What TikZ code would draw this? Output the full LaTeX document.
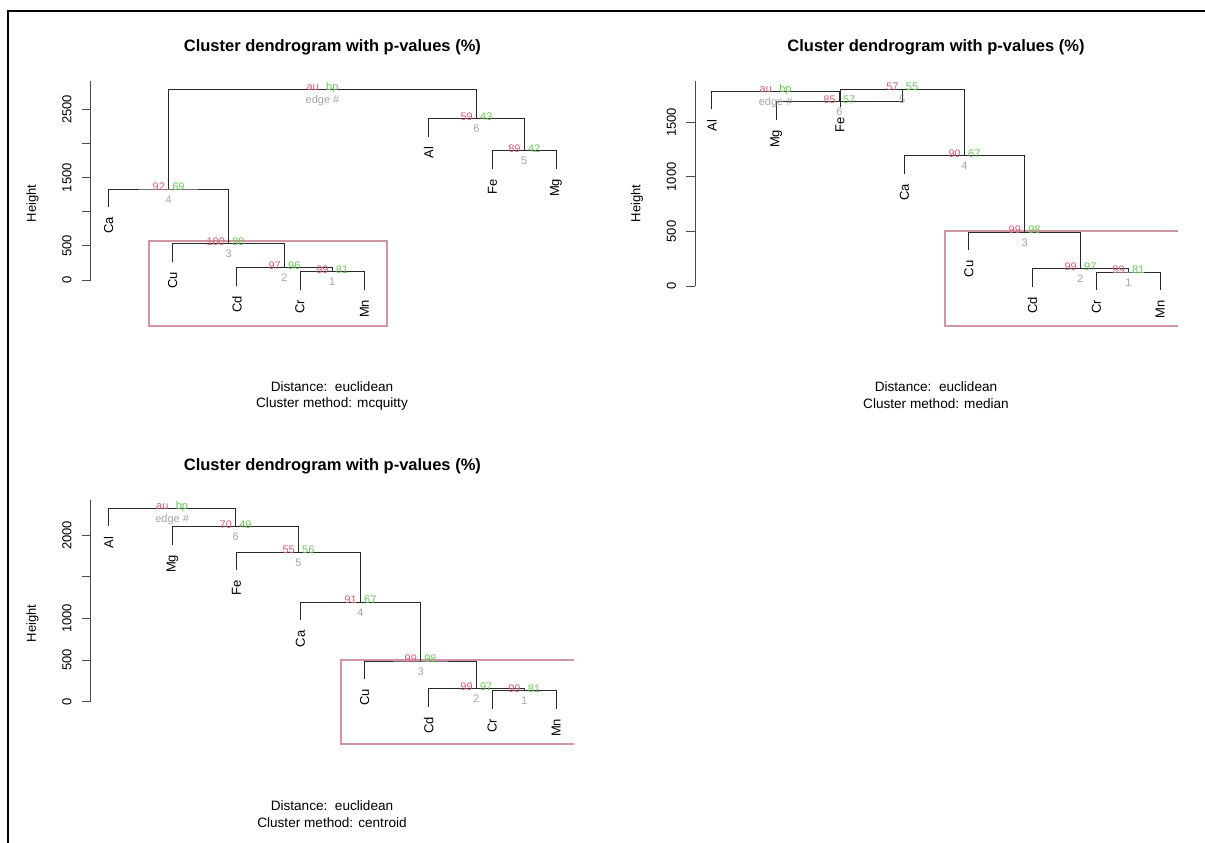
\documentclass[tikz,border=0pt]{standalone}
\usepackage{fontspec}
\setmainfont{Liberation Sans}
\definecolor{aucol}{HTML}{D4607A}
\definecolor{bpcol}{HTML}{6CC85C}
\definecolor{edgecol}{HTML}{A6A6A6}
\definecolor{rectcol}{RGB}{208,150,162}
\definecolor{dendcol}{HTML}{2A2A2A}
\begin{document}
\begin{tikzpicture}[x=1pt,y=-1pt,
 dend/.style={draw=dendcol, line width=0.9pt},
 axisline/.style={draw=black!70, line width=0.9pt},
 leaf/.style={yshift=-10pt, rotate=90, anchor=east, inner sep=0pt, font=\fontsize{13}{15}\selectfont},
 ticklab/.style={rotate=90, anchor=center, inner sep=0pt, font=\fontsize{13}{15}\selectfont},
 ttl/.style={font=\fontsize{16.5}{19}\selectfont\bfseries, inner sep=0pt},
 foot/.style={font=\fontsize{13.6}{16}\selectfont, inner sep=0pt},
 aulab/.style={text=aucol, anchor=base east, inner sep=0pt, xshift=-3.5pt, yshift=-1.5pt, font=\fontsize{11}{13}\selectfont},
 bplab/.style={text=bpcol, anchor=base west, inner sep=0pt, xshift=3.5pt, yshift=-1.5pt, font=\fontsize{11}{13}\selectfont},
 edlab/.style={text=edgecol, anchor=base, inner sep=0pt, yshift=-14pt, font=\fontsize{11}{13}\selectfont},
 pvrect/.style={draw=rectcol, line width=1.1pt}]
\useasboundingbox[fill=white] (0,0) rectangle (1205,843);
% outer frame
\draw[line width=2pt] (7.7,10.3) -- (7.7,843);
\draw[line width=1.1pt] (7,11) -- (1205,11);
\draw[line width=2.2pt] (7,11.3) -- (22,11.3);
\draw[line width=2.2pt] (609,11.3) -- (626,11.3);

% ================= Panel 1: mcquitty =================
\coordinate (aCa) at (108.7,207);
\coordinate (aCu) at (172.6,261.7);
\coordinate (aCd) at (236.9,285.7);
\coordinate (aCr) at (300.0,289.7);
\coordinate (aMn) at (364.3,289.7);
\coordinate (aAl) at (428.6,136.7);
\coordinate (aFe) at (492.5,168.7);
\coordinate (aMg) at (556.1,168.7);
\coordinate (ae1) at (332.2,271.7);
\coordinate (ae2) at (284.5,267.7);
\coordinate (ae3) at (228.6,243.7);
\coordinate (ae4) at (168.6,189);
\coordinate (ae5) at (524.3,150.7);
\coordinate (ae6) at (476.5,118.7);
\coordinate (aroot) at (322.5,89.3);
\draw[pvrect] (149,241) -- (387,241) -- (387,326) -- (149,326) -- cycle;
\draw[dend] (aCr) |- (ae1) -| (aMn);
\draw[dend] (aCd) |- (ae2) -| (ae1);
\draw[dend] (aCu) |- (ae3) -| (ae2);
\draw[dend] (aCa) |- (ae4) -| (ae3);
\draw[dend] (aFe) |- (ae5) -| (aMg);
\draw[dend] (aAl) |- (ae6) -| (ae5);
\draw[dend] (ae4) |- (aroot) -| (ae6);
\draw[axisline] (90.7,81) -- (90.7,280);
\foreach \yy in {280,245.86,211.72,177.58,143.44,109.3} \draw[axisline] (90.7,\yy) -- (81.5,\yy);
\node[ttl] (aT) at (332.4,47.3) {Cluster dendrogram with p-values (\%)};
\node[ticklab] (aY0) at (67,280) {0};
\node[ticklab] (aY1) at (67,245.86) {500};
\node[ticklab] (aY3) at (67,177.58) {1500};
\node[ticklab] (aY5) at (67,109.3) {2500};
\node[ticklab] (aH) at (32.5,203.3) {Height};
\node[leaf] (aCaL) at (aCa) {Ca};
\node[leaf] (aCuL) at (aCu) {Cu};
\node[leaf] (aCdL) at (aCd) {Cd};
\node[leaf] (aCrL) at (aCr) {Cr};
\node[leaf] (aMnL) at (aMn) {Mn};
\node[leaf] (aAlL) at (aAl) {Al};
\node[leaf] (aFeL) at (aFe) {Fe};
\node[leaf] (aMgL) at (aMg) {Mg};
\node[aulab] (ae1a) at (ae1) {99}; \node[bplab] (ae1b) at (ae1) {81}; \node[edlab] (ae1e) at (ae1) {1};
\node[aulab] (ae2a) at (ae2) {97}; \node[bplab] (ae2b) at (ae2) {96}; \node[edlab] (ae2e) at (ae2) {2};
\node[aulab] (ae3a) at (ae3) {100}; \node[bplab] (ae3b) at (ae3) {98}; \node[edlab] (ae3e) at (ae3) {3};
\node[aulab] (ae4a) at (ae4) {92}; \node[bplab] (ae4b) at (ae4) {69}; \node[edlab] (ae4e) at (ae4) {4};
\node[aulab] (ae5a) at (ae5) {89}; \node[bplab] (ae5b) at (ae5) {42}; \node[edlab] (ae5e) at (ae5) {5};
\node[aulab] (ae6a) at (ae6) {59}; \node[bplab] (ae6b) at (ae6) {43}; \node[edlab] (ae6e) at (ae6) {6};
\node[aulab] (aroota) at (aroot) {au}; \node[bplab] (arootb) at (aroot) {bp}; \node[edlab] (aroote) at (aroot) {edge \#};
\node[foot] (aF1) at (332,386.7) {Distance:\ \ euclidean};
\node[foot] (aF2) at (332,404) {Cluster method: mcquitty};

% ================= Panel 2: median =================
\coordinate (bAl) at (711.9,109.3);
\coordinate (bMg) at (776.3,119.7);
\coordinate (bFe) at (840.0,107.3);
\coordinate (bCa) at (904.4,173.7);
\coordinate (bCu) at (968.8,250.3);
\coordinate (bCd) at (1032.5,286.7);
\coordinate (bCr) at (1096.5,290);
\coordinate (bMn) at (1160.2,290);
\coordinate (be1) at (1128.4,272);
\coordinate (be2) at (1080.45,268.7);
\coordinate (be3) at (1024.6,232.3);
\coordinate (be4) at (964.5,155.7);
\coordinate (be5) at (902.25,89.3);
\coordinate (be6) at (839.3,101.7);
\coordinate (broot) at (775.6,91.3);
\draw[pvrect] (1178,231) -- (945,231) -- (945,326) -- (1178,326);
\draw[dend] (bCr) |- (be1) -| (bMn);
\draw[dend] (bCd) |- (be2) -| (be1);
\draw[dend] (bCu) |- (be3) -| (be2);
\draw[dend] (bCa) |- (be4) -| (be3);
\draw[dend] (bFe) |- (be5) -| (be4);
\draw[dend] (bMg) |- (be6) -| (be5);
\draw[dend] (bAl) |- (broot) -| (be6);
\draw[axisline] (695.3,81) -- (695.3,286);
\foreach \yy in {286,231.43,176.87,122.3} \draw[axisline] (695.3,\yy) -- (686,\yy);
\node[ttl] (bT) at (936,47.3) {Cluster dendrogram with p-values (\%)};
\node[ticklab] (bY0) at (671.5,286) {0};
\node[ticklab] (bY1) at (671.5,231.43) {500};
\node[ticklab] (bY2) at (671.5,176.87) {1000};
\node[ticklab] (bY3) at (671.5,122.3) {1500};
\node[ticklab] (bH) at (637,203.3) {Height};
\node[leaf] (bAlL) at (bAl) {Al};
\node[leaf] (bMgL) at (bMg) {Mg};
\node[leaf] (bFeL) at (bFe) {Fe};
\node[leaf] (bCaL) at (bCa) {Ca};
\node[leaf] (bCuL) at (bCu) {Cu};
\node[leaf] (bCdL) at (bCd) {Cd};
\node[leaf] (bCrL) at (bCr) {Cr};
\node[leaf] (bMnL) at (bMn) {Mn};
\node[aulab] (be1a) at (be1) {99}; \node[bplab] (be1b) at (be1) {81}; \node[edlab] (be1e) at (be1) {1};
\node[aulab] (be2a) at (be2) {99}; \node[bplab] (be2b) at (be2) {97}; \node[edlab] (be2e) at (be2) {2};
\node[aulab] (be3a) at (be3) {99}; \node[bplab] (be3b) at (be3) {98}; \node[edlab] (be3e) at (be3) {3};
\node[aulab] (be4a) at (be4) {90}; \node[bplab] (be4b) at (be4) {67}; \node[edlab] (be4e) at (be4) {4};
\node[aulab] (be5a) at (be5) {57}; \node[bplab] (be5b) at (be5) {55}; \node[edlab] (be5e) at (be5) {5};
\node[aulab] (be6a) at (be6) {85}; \node[bplab] (be6b) at (be6) {57}; \node[edlab] (be6e) at (be6) {6};
\node[aulab] (broota) at (broot) {au}; \node[bplab] (brootb) at (broot) {bp}; \node[edlab] (broote) at (broot) {edge \#};
\node[foot] (bF1) at (936,386.7) {Distance:\ \ euclidean};
\node[foot] (bF2) at (936,404) {Cluster method: median};

% ================= Panel 3: centroid =================
\coordinate (cAl) at (108.7,526.3);
\coordinate (cMg) at (172.6,544.7);
\coordinate (cFe) at (236.5,570.3);
\coordinate (cCa) at (300.4,620.3);
\coordinate (cCu) at (364.7,679);
\coordinate (cCd) at (428.6,706.7);
\coordinate (cCr) at (492.2,708.7);
\coordinate (cMn) at (556.1,708.7);
\coordinate (ce1) at (524.2,690.7);
\coordinate (ce2) at (476.4,688.7);
\coordinate (ce3) at (420.6,661);
\coordinate (ce4) at (360.5,602.3);
\coordinate (ce5) at (298.5,552.3);
\coordinate (ce6) at (235.6,526.7);
\coordinate (croot) at (172.1,508.3);
\draw[pvrect] (574,660) -- (341,660) -- (341,744) -- (574,744);
\draw[dend] (cCr) |- (ce1) -| (cMn);
\draw[dend] (cCd) |- (ce2) -| (ce1);
\draw[dend] (cCu) |- (ce3) -| (ce2);
\draw[dend] (cCa) |- (ce4) -| (ce3);
\draw[dend] (cFe) |- (ce5) -| (ce4);
\draw[dend] (cMg) |- (ce6) -| (ce5);
\draw[dend] (cAl) |- (croot) -| (ce6);
\draw[axisline] (90.7,500) -- (90.7,701.7);
\foreach \yy in {701.7,660.1,618.5,576.9,535.3} \draw[axisline] (90.7,\yy) -- (81.5,\yy);
\node[ttl] (cT) at (332.4,466.7) {Cluster dendrogram with p-values (\%)};
\node[ticklab] (cY0) at (67,701.7) {0};
\node[ticklab] (cY1) at (67,660.1) {500};
\node[ticklab] (cY2) at (67,618.5) {1000};
\node[ticklab] (cY4) at (67,535.3) {2000};
\node[ticklab] (cH) at (32.5,623.3) {Height};
\node[leaf] (cAlL) at (cAl) {Al};
\node[leaf] (cMgL) at (cMg) {Mg};
\node[leaf] (cFeL) at (cFe) {Fe};
\node[leaf] (cCaL) at (cCa) {Ca};
\node[leaf] (cCuL) at (cCu) {Cu};
\node[leaf] (cCdL) at (cCd) {Cd};
\node[leaf] (cCrL) at (cCr) {Cr};
\node[leaf] (cMnL) at (cMn) {Mn};
\node[aulab] (ce1a) at (ce1) {99}; \node[bplab] (ce1b) at (ce1) {81}; \node[edlab] (ce1e) at (ce1) {1};
\node[aulab] (ce2a) at (ce2) {99}; \node[bplab] (ce2b) at (ce2) {97}; \node[edlab] (ce2e) at (ce2) {2};
\node[aulab] (ce3a) at (ce3) {99}; \node[bplab] (ce3b) at (ce3) {98}; \node[edlab] (ce3e) at (ce3) {3};
\node[aulab] (ce4a) at (ce4) {91}; \node[bplab] (ce4b) at (ce4) {67}; \node[edlab] (ce4e) at (ce4) {4};
\node[aulab] (ce5a) at (ce5) {55}; \node[bplab] (ce5b) at (ce5) {56}; \node[edlab] (ce5e) at (ce5) {5};
\node[aulab] (ce6a) at (ce6) {70}; \node[bplab] (ce6b) at (ce6) {49}; \node[edlab] (ce6e) at (ce6) {6};
\node[aulab] (croota) at (croot) {au}; \node[bplab] (crootb) at (croot) {bp}; \node[edlab] (croote) at (croot) {edge \#};
\node[foot] (cF1) at (332,805.7) {Distance:\ \ euclidean};
\node[foot] (cF2) at (332,822.7) {Cluster method: centroid};
\end{tikzpicture}
\end{document}
